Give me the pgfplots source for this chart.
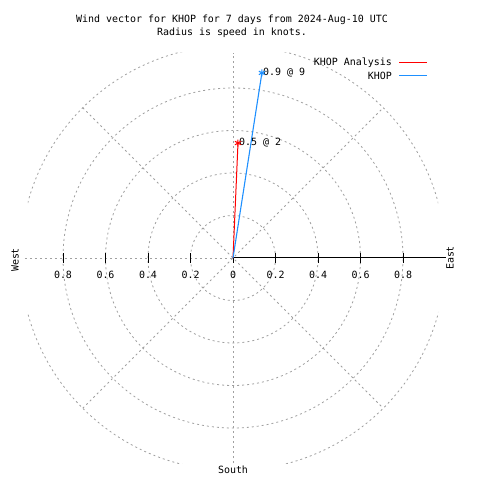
\documentclass[border=0pt]{standalone}
\usepackage{pgfplots}
\pgfplotsset{compat=1.18}
\usepackage{fontspec}
\setmainfont{DejaVu Sans Mono}
\definecolor{gridgray}{RGB}{160,160,160}
\definecolor{dblue}{RGB}{30,144,255}
\begin{document}
\begin{tikzpicture}[font=\fontsize{10}{12}\selectfont]
\path[use as bounding box] (0,0) rectangle (480bp,480bp);
\fill[white] (0,0) rectangle (480bp,480bp);
% titles
\node at (232bp,460bp) {Wind vector for KHOP for 7 days from 2024-Aug-10 UTC};
\node at (232bp,447bp) {Radius is speed in knots.};
\begin{axis}[at={(233bp,222bp)}, anchor=center, scale only axis,
  width=425bp, height=425bp, xmin=-1, xmax=1, ymin=-1, ymax=1,
  hide axis, clip=false]
% grid
\begin{scope}[gridgray, line width=0.8bp, dash pattern=on 2bp off 3bp]
\draw (axis cs:0,0) circle[radius=42.5bp];
\draw (axis cs:0,0) circle[radius=85bp];
\draw (axis cs:0,0) circle[radius=127.5bp];
\draw (axis cs:0,0) circle[radius=170bp];
\begin{scope}
\clip (axis cs:-0.965,-0.965) rectangle (axis cs:0.965,0.965);
\draw (axis cs:0,0) circle[radius=212.5bp];
\end{scope}
\draw (axis cs:0,-0.965) -- (axis cs:0,0.965);
\draw (axis cs:-0.98,0) -- (axis cs:0,0);
\draw (axis cs:-0.707,-0.707) -- (axis cs:0.707,0.707);
\draw (axis cs:-0.707,0.707) -- (axis cs:0.707,-0.707);
\end{scope}
% x axis
\draw[black, line width=1bp] (axis cs:0,0) -- (axis cs:1.0,0);
\pgfplotsinvokeforeach{-0.8,-0.6,-0.4,-0.2,0,0.2,0.4,0.6,0.8}{
  \draw[black, line width=0.8bp] (axis cs:#1,-0.0235) -- (axis cs:#1,0.0235);
}
\node at (axis cs:-0.8,0) [yshift=-17bp] {0.8};
\node at (axis cs:-0.6,0) [yshift=-17bp] {0.6};
\node at (axis cs:-0.4,0) [yshift=-17bp] {0.4};
\node at (axis cs:-0.2,0) [yshift=-17bp] {0.2};
\node at (axis cs:0,0) [yshift=-17bp] {0};
\node at (axis cs:0.2,0) [yshift=-17bp] {0.2};
\node at (axis cs:0.4,0) [yshift=-17bp] {0.4};
\node at (axis cs:0.6,0) [yshift=-17bp] {0.6};
\node at (axis cs:0.8,0) [yshift=-17bp] {0.8};
% data
\addplot[red, line width=1bp, mark=asterisk, mark indices={2}, mark size=3.5bp, mark options={solid}]
  coordinates {(0,0) (0.0235,0.541)};
\addplot[dblue, line width=1.1bp, mark=asterisk, mark indices={2}, mark size=3.5bp, mark options={solid}]
  coordinates {(0,0) (0.136,0.871)};
\node[anchor=west, inner sep=0pt] at (axis cs:0.0235,0.541) [xshift=1bp] {0.5 @ 2};
\node[anchor=west, inner sep=0pt] at (axis cs:0.136,0.871) [xshift=1bp] {0.9 @ 9};
\end{axis}
% direction labels
\node[rotate=90] at (15bp,220bp) {West};
\node[rotate=90] at (450bp,222bp) {East};
\node at (233bp,10bp) {South};
% legend
\node[anchor=east, inner sep=0pt] at (392bp,417bp) {KHOP Analysis};
\draw[red, line width=1bp] (399bp,417bp) -- (427bp,417bp);
\node[anchor=east, inner sep=0pt] at (392bp,404bp) {KHOP};
\draw[dblue, line width=1bp] (399bp,404bp) -- (427bp,404bp);
\end{tikzpicture}
\end{document}
